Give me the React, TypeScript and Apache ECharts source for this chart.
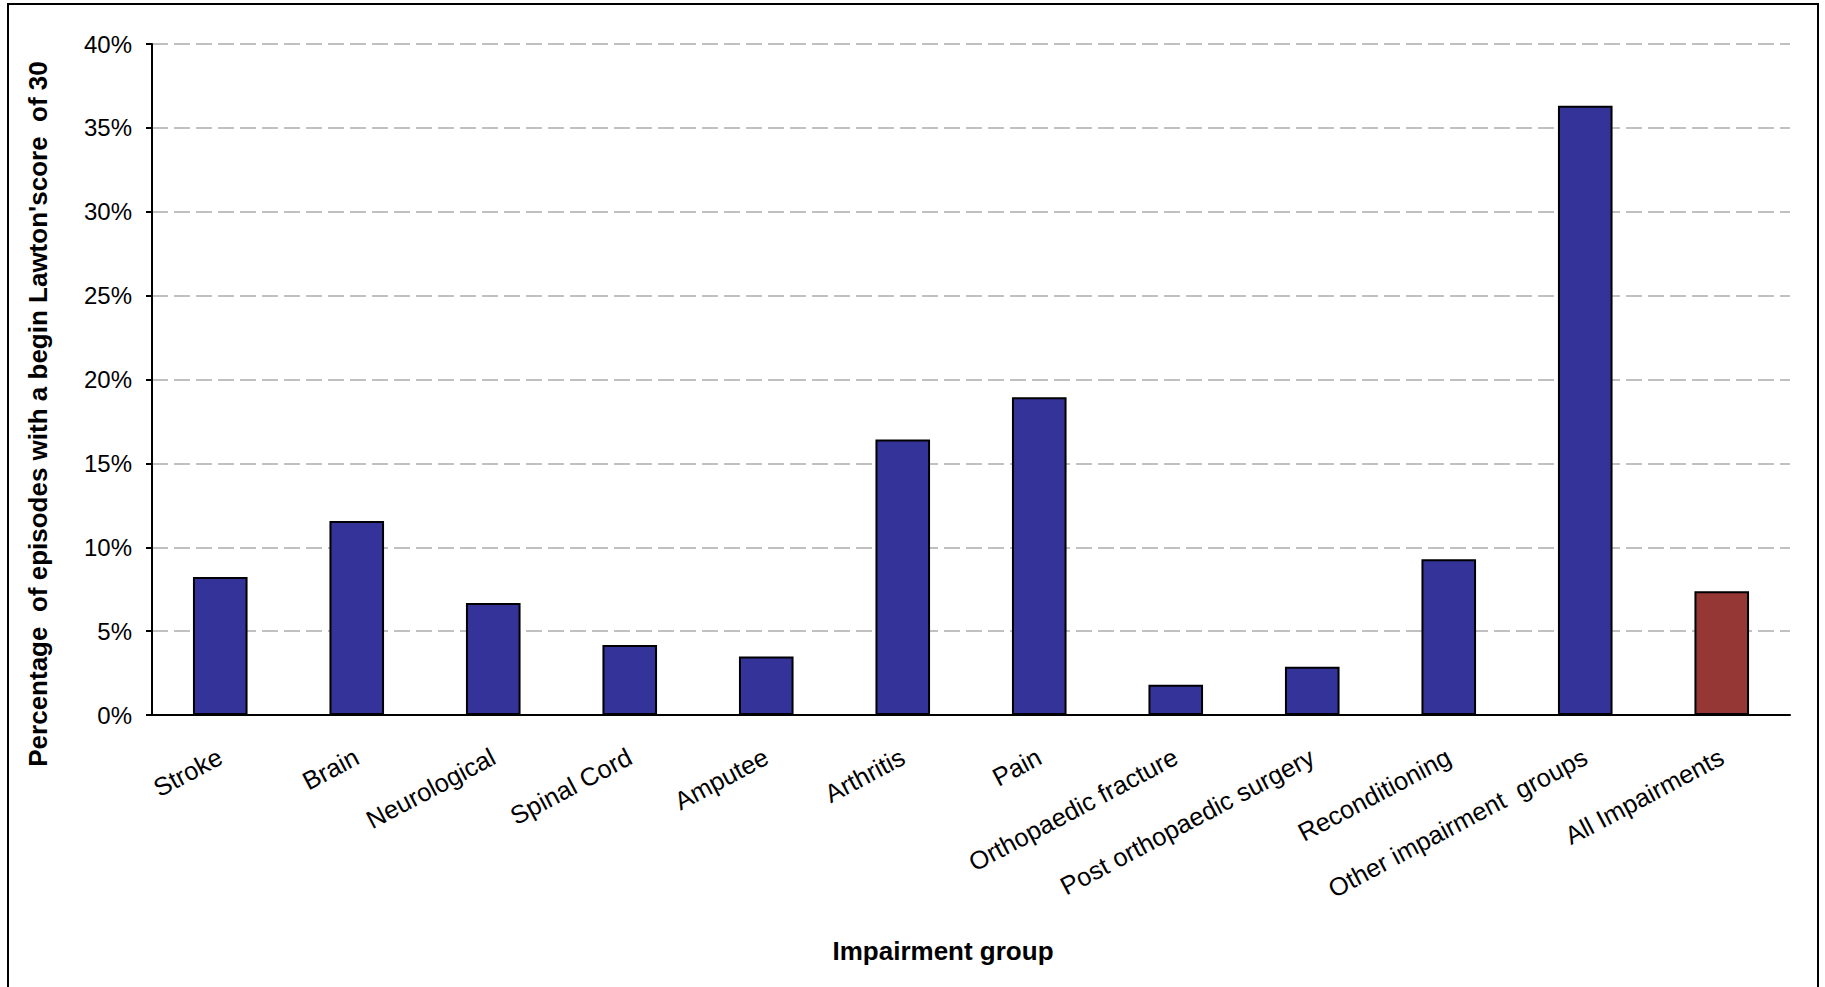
import React, { useEffect, useRef } from "react";
import * as echarts from "echarts";

const categories = [
  "Stroke",
  "Brain",
  "Neurological",
  "Spinal Cord",
  "Amputee",
  "Arthritis",
  "Pain",
  "Orthopaedic fracture",
  "Post orthopaedic surgery",
  "Reconditioning",
  "Other impairment  groups",
  "All Impairments",
];
const values = [8.23, 11.56, 6.68, 4.17, 3.48, 16.43, 18.94, 1.81, 2.88, 9.28, 36.32, 7.37];
const barColors = [
  "#333399", "#333399", "#333399", "#333399", "#333399", "#333399",
  "#333399", "#333399", "#333399", "#333399", "#333399", "#953735",
];
const yTitle = "Percentage  of episodes with a begin Lawton'score  of 30";
const xTitle = "Impairment group";

const FONT = "'Liberation Sans', Arial, Helvetica, sans-serif";

export default function App() {
  const ref = useRef<HTMLDivElement>(null);
  useEffect(() => {
    if (!ref.current) return;
    const chart = echarts.init(ref.current, null, { renderer: "svg" });
    chart.setOption({
      animation: false,
      backgroundColor: "#ffffff",
      grid: { left: 152, right: 35, top: 44, bottom: 272, containLabel: false },
      xAxis: {
        type: "category",
        data: categories,
        axisLine: { show: true, lineStyle: { color: "#000", width: 2 } },
        axisTick: { show: false },
        axisLabel: {
          rotate: 28,
          interval: 0,
          margin: 40,
          color: "#000",
          fontSize: 25.5,
          fontFamily: FONT,
        },
      },
      yAxis: {
        type: "value",
        min: 0,
        max: 40,
        interval: 5,
        axisLine: { show: true, lineStyle: { color: "#000", width: 2 } },
        axisTick: { show: true, length: 6, lineStyle: { color: "#000", width: 2 } },
        axisLabel: {
          formatter: "{value}%",
          color: "#000",
          fontSize: 24,
          fontFamily: FONT,
          margin: 20,
        },
        splitLine: {
          show: true,
          lineStyle: { color: "#c0c0c0", width: 2, type: [16, 6] },
        },
      },
      series: [
        {
          type: "bar",
          barWidth: "40%",
          data: values.map((v, i) => ({
            value: v,
            itemStyle: { color: barColors[i], borderColor: "#000", borderWidth: 2 },
          })),
        },
      ],
      graphic: [
        {
          type: "rect",
          shape: { x: 8, y: 4, width: 1810, height: 1010 },
          style: { fill: "none", stroke: "#000", lineWidth: 2 },
          silent: true,
        },
        {
          type: "text",
          x: 38,
          y: 414,
          rotation: Math.PI / 2,
          style: {
            text: yTitle,
            align: "center",
            verticalAlign: "middle",
            fontSize: 26,
            fontWeight: "bold",
            fontFamily: FONT,
            fill: "#000",
          },
        },
        {
          type: "text",
          x: 943,
          y: 951,
          style: {
            text: xTitle,
            align: "center",
            verticalAlign: "middle",
            fontSize: 26,
            fontWeight: "bold",
            fontFamily: FONT,
            fill: "#000",
          },
        },
      ],
    });
    return () => chart.dispose();
  }, []);
  return (
    <div
      ref={ref}
      style={{ position: "absolute", left: 0, top: 0, width: 1825, height: 987 }}
    />
  );
}
